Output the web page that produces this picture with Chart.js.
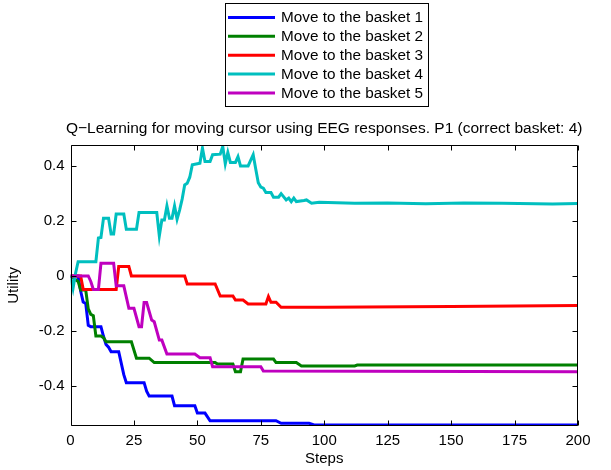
<!DOCTYPE html>
<html>
<head>
<meta charset="utf-8">
<script src="https://cdn.jsdelivr.net/npm/chart.js@4.4.1/dist/chart.umd.min.js"></script>
<style>
  html, body { margin: 0; padding: 0; background: #fff; }
  canvas { display: block; }
</style>
</head>
<body>
<canvas id="chart" width="611" height="470"></canvas>
<script>
const titleText = 'Q\u2212Learning for moving cursor using EEG responses. P1 (correct basket: 4)';
const xTitle = 'Steps';
const yTitle = 'Utility';
const xTicks = [0, 25, 50, 75, 100, 125, 150, 175, 200];
const yTicks = [-0.4, -0.2, 0, 0.2, 0.4];
const yTickLabels = ['-0.4', '-0.2', '0', '0.2', '0.4'];

const seriesLabels = ['Move to the basket 1', 'Move to the basket 2', 'Move to the basket 3', 'Move to the basket 4', 'Move to the basket 5'];
const seriesColors = ['#0000ff', '#008000', '#ff0000', '#00bfbf', '#bf00bf'];

// breakpoints of each curve (step, utility)
const basket1Steps  = [0, 3, 4, 5, 6, 7, 8, 12, 13, 14, 15, 16, 19, 21, 22, 29, 30, 31, 40, 41, 49, 50, 53, 55, 81, 83, 94, 96, 200];
const basket1Values = [0, 0, -0.055, -0.095, -0.1, -0.18, -0.185, -0.185, -0.22, -0.25, -0.26, -0.276, -0.276, -0.36, -0.389, -0.389, -0.42, -0.438, -0.438, -0.473, -0.473, -0.5, -0.5, -0.528, -0.528, -0.537, -0.537, -0.543, -0.543];

const basket2Steps  = [0, 3, 4, 6, 7, 8, 9, 10, 12, 13, 14, 24, 26, 31, 33, 57, 58, 64, 65, 67, 68, 80, 81, 89, 91, 112, 113, 200];
const basket2Values = [0, -0.02, -0.051, -0.051, -0.12, -0.14, -0.145, -0.219, -0.219, -0.225, -0.24, -0.24, -0.3, -0.3, -0.316, -0.316, -0.321, -0.321, -0.349, -0.349, -0.303, -0.303, -0.316, -0.316, -0.328, -0.328, -0.325, -0.325];

const basket3Steps  = [0, 4, 5, 18, 19, 23, 24, 45, 46, 57, 59, 64, 65, 68, 70, 77, 78, 79, 81, 83, 100, 150, 200];
const basket3Values = [0, 0, -0.049, -0.049, 0.034, 0.034, 0, 0, -0.029, -0.029, -0.073, -0.073, -0.088, -0.088, -0.102, -0.102, -0.075, -0.096, -0.096, -0.114, -0.114, -0.111, -0.108];

const basket4Steps  = [0, 1, 2, 3, 10, 11, 12, 13, 15, 16, 17, 18, 21, 22, 26, 27, 34, 35, 36, 37, 38, 39, 40, 41, 42, 43, 44, 45, 46, 47, 48, 50, 51, 52, 53, 55, 56, 59, 60, 61, 62, 63, 65, 66, 67, 70, 72, 73, 74, 75, 76, 77, 79, 80, 82, 83, 85, 86, 87, 88, 89, 92, 93, 95, 98, 112, 125, 140, 155, 170, 190, 200];
const basket4Values = [0, -0.045, 0.01, 0.052, 0.052, 0.138, 0.14, 0.21, 0.21, 0.153, 0.153, 0.226, 0.226, 0.17, 0.17, 0.231, 0.231, 0.146, 0.204, 0.204, 0.255, 0.21, 0.21, 0.255, 0.207, 0.24, 0.28, 0.332, 0.338, 0.36, 0.405, 0.409, 0.411, 0.466, 0.417, 0.417, 0.442, 0.444, 0.472, 0.409, 0.45, 0.414, 0.414, 0.435, 0.401, 0.401, 0.442, 0.39, 0.34, 0.324, 0.32, 0.304, 0.304, 0.287, 0.287, 0.3, 0.277, 0.284, 0.271, 0.284, 0.271, 0.275, 0.277, 0.265, 0.269, 0.265, 0.266, 0.263, 0.266, 0.265, 0.262, 0.264];

const basket5Steps  = [0, 7, 8, 9, 11, 12, 17, 18, 21, 23, 25, 27, 28, 29, 30, 32, 33, 35, 36, 38, 49, 51, 55, 56, 75, 76, 200];
const basket5Values = [0, 0, -0.02, -0.049, -0.049, 0.046, 0.046, -0.036, -0.036, -0.118, -0.118, -0.185, -0.185, -0.097, -0.097, -0.161, -0.167, -0.234, -0.234, -0.285, -0.285, -0.298, -0.298, -0.331, -0.331, -0.347, -0.349];

const allSteps = [basket1Steps, basket2Steps, basket3Steps, basket4Steps, basket5Steps];
const allValues = [basket1Values, basket2Values, basket3Values, basket4Values, basket5Values];

const FONT = '"Liberation Sans", Arial, Helvetica, sans-serif';
Chart.defaults.font.family = FONT;
Chart.defaults.color = '#000';

const datasets = seriesLabels.map((label, i) => ({
    label: label,
    data: allSteps[i].map((s, j) => ({ x: s, y: allValues[i][j] })),
    borderColor: seriesColors[i],
    backgroundColor: seriesColors[i],
    borderWidth: 3,
    pointRadius: 0,
    tension: 0,
    fill: false,
    order: seriesLabels.length - i
}));

// box with inside tick marks on the four sides
const framePlugin = {
    id: 'frame',
    afterDraw(chart) {
        const { ctx, chartArea: a, scales: { x, y } } = chart;
        const L = Math.round(a.left) + 0.5, R = Math.round(a.right) - 0.5;
        const T = Math.round(a.top) + 0.5, B = Math.round(a.bottom) - 0.5;
        ctx.save();
        ctx.strokeStyle = '#000';
        ctx.lineWidth = 1;
        ctx.beginPath();
        ctx.rect(L, T, R - L, B - T);
        const tl = 5;
        xTicks.forEach(v => {
            const px = Math.round(x.getPixelForValue(v)) + 0.5;
            ctx.moveTo(px, B); ctx.lineTo(px, B - tl);
            ctx.moveTo(px, T); ctx.lineTo(px, T + tl);
        });
        yTicks.forEach(v => {
            const py = Math.round(y.getPixelForValue(v)) + 0.5;
            ctx.moveTo(L, py); ctx.lineTo(L + tl, py);
            ctx.moveTo(R, py); ctx.lineTo(R - tl, py);
        });
        ctx.stroke();
        ctx.restore();
    }
};

// boxed legend above the title, one entry per row
const boxLegendPlugin = {
    id: 'boxLegend',
    afterDraw(chart) {
        const ctx = chart.ctx;
        const left = 225.5, top = 3.5, w = 203, h = 103;
        const rowH = 18.85, firstRow = 17.5;
        ctx.save();
        ctx.fillStyle = '#fff';
        ctx.fillRect(left, top, w, h);
        ctx.strokeStyle = '#000';
        ctx.lineWidth = 1;
        ctx.strokeRect(left, top, w, h);
        ctx.font = '15.3px ' + FONT;
        ctx.textBaseline = 'middle';
        ctx.textAlign = 'left';
        chart.data.datasets.forEach((ds, i) => {
            const yy = firstRow + i * rowH;
            ctx.strokeStyle = ds.borderColor;
            ctx.lineWidth = 3;
            ctx.beginPath();
            ctx.moveTo(228, yy);
            ctx.lineTo(275, yy);
            ctx.stroke();
            ctx.fillStyle = '#000';
            ctx.fillText(ds.label, 281, yy + 0.5);
        });
        ctx.restore();
    }
};

// centre the title over the plot area rather than the canvas
const centerTitlePlugin = {
    id: 'centerTitle',
    afterLayout(chart) {
        const tb = chart.titleBlock;
        if (!tb) return;
        const d = (chart.chartArea.left + chart.chartArea.right) / 2 - (tb.left + tb.right) / 2;
        tb.left += d;
        tb.right += d;
    }
};

new Chart(document.getElementById('chart'), {
    type: 'line',
    data: { datasets: datasets },
    options: {
        responsive: false,
        devicePixelRatio: 1,
        animation: false,
        layout: { padding: { top: 111, right: 33, bottom: 0, left: 0 } },
        plugins: {
            legend: { display: false },
            tooltip: { enabled: false },
            title: {
                display: true,
                text: titleText,
                color: '#000',
                font: { size: 15.5, weight: 'normal', family: FONT },
                padding: { top: 8, bottom: 7.5 }
            }
        },
        scales: {
            x: {
                type: 'linear',
                min: 0,
                max: 200,
                afterBuildTicks: s => { s.ticks = xTicks.map(v => ({ value: v })); },
                afterFit: s => { s.height = 44.3; },
                grid: { display: false, drawTicks: false },
                border: { display: false },
                ticks: { padding: 6, maxRotation: 0, font: { size: 15 }, callback: v => String(v) },
                title: { display: true, text: xTitle, font: { size: 15 }, padding: { top: 0, bottom: 2 } }
            },
            y: {
                type: 'linear',
                min: -0.546,
                max: 0.477,
                afterBuildTicks: s => { s.ticks = yTicks.map(v => ({ value: v })); },
                afterFit: s => { s.width = 70.5; },
                grid: { display: false, drawTicks: false },
                border: { display: false },
                ticks: { padding: 6, font: { size: 15 }, callback: (v, i) => yTickLabels[i] },
                title: { display: true, text: yTitle, font: { size: 15 }, padding: { top: 5, bottom: 0 } }
            }
        }
    },
    plugins: [framePlugin, boxLegendPlugin, centerTitlePlugin]
});
</script>
</body>
</html>
